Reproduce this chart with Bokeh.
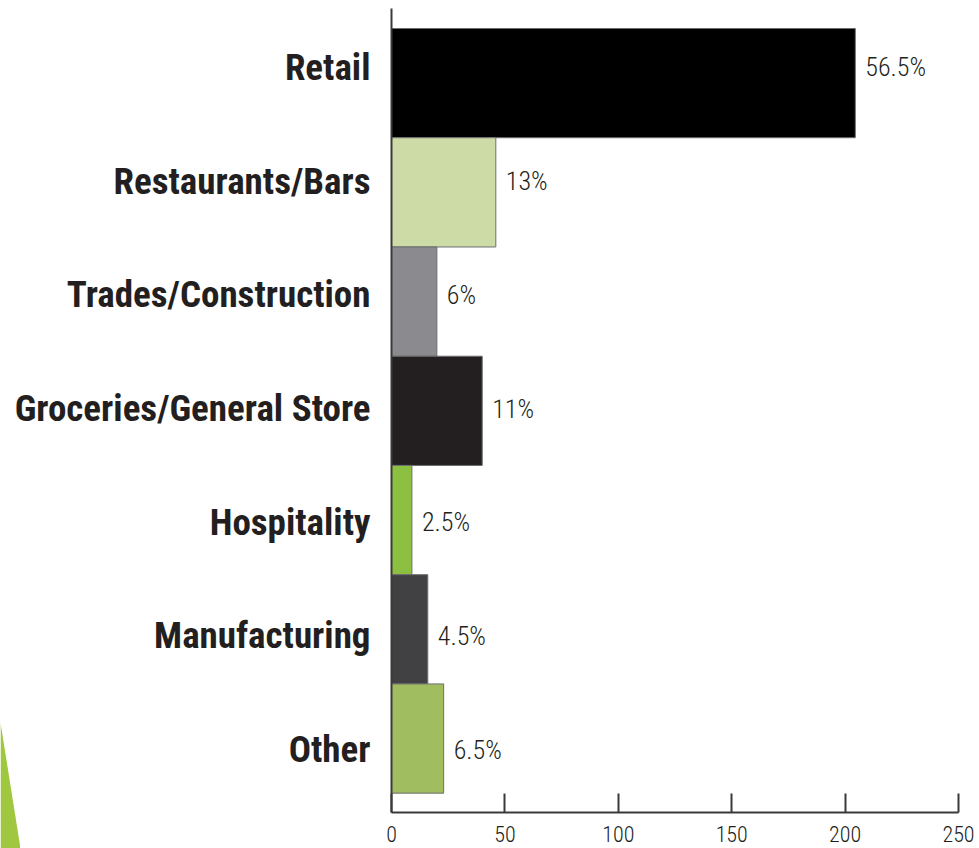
from bokeh.plotting import figure
from bokeh.models import Range1d, LinearAxis, FixedTicker, ColumnDataSource
from bokeh.core.properties import value
from bokeh.embed import file_html
from bokeh.resources import INLINE

# ---- data ----
categories = ["Retail", "Restaurants/Bars", "Trades/Construction",
              "Groceries/General Store", "Hospitality", "Manufacturing", "Other"]
counts = [204.5, 46, 20, 40, 9, 16, 23]
pct_labels = ["56.5%", "13%", "6%", "11%", "2.5%", "4.5%", "6.5%"]
bar_colors = ["#000000", "#cddba7", "#8b8a8f", "#231f20", "#8dc041", "#414042", "#a0bd5f"]
x_ticks = [0, 50, 100, 150, 200, 250]

# decorative slide wedge (lower-left corner), in its own small canvas
wedge_x = [0, 20, 0]
wedge_y = [126, 0, 0]

positions = list(range(len(categories) - 1, -1, -1))  # Retail on top

src = ColumnDataSource(dict(cat=categories, count=counts, pct=pct_labels,
                            color=bar_colors, pos=positions))

BOLD_FONT = "'Roboto Condensed', 'Noto Sans Condensed', 'DejaVu Sans Condensed', sans-serif"
LIGHT_FONT = "'Roboto Condensed Light', 'Roboto Condensed', 'Noto Sans Condensed', sans-serif"
TEXT_COLOR = "#231f20"
AXIS_COLOR = "#3a3a3a"

p = figure(width=979, height=848, output_backend="svg", toolbar_location=None,
           x_range=Range1d(0, 250), y_range=Range1d(-0.677, 6.683),
           x_axis_location=None, y_axis_location=None,
           min_border_left=391, min_border_right=21, min_border_top=8,
           min_border_bottom=36)
p.extra_y_ranges = {"labels": Range1d(-0.554, 6.519)}
p.outline_line_color = None
p.xgrid.visible = False
p.ygrid.visible = False
p.background_fill_color = "white"
p.border_fill_color = "white"

p.hbar(y="pos", left=0, right="count", height=1.0, fill_color="color",
       line_color="#6d6e71", line_width=1, source=src)

p.text(x="count", y="pos", text="pct", x_offset=10, text_baseline="middle",
       text_align="left", text_font=value(LIGHT_FONT), text_font_size="26px",
       text_color=TEXT_COLOR, y_range_name="labels", source=src)

# category axis
yaxis = LinearAxis(y_range_name="labels",
                   ticker=FixedTicker(ticks=positions),
                   major_label_overrides={pos: cat for pos, cat in zip(positions, categories)})
yaxis.major_tick_in = 0
yaxis.major_tick_out = 0
yaxis.minor_tick_line_color = None
yaxis.axis_line_color = AXIS_COLOR
yaxis.axis_line_width = 2
yaxis.major_label_standoff = 21
yaxis.major_label_text_font = BOLD_FONT
yaxis.major_label_text_font_style = "bold"
yaxis.major_label_text_font_size = "37px"
yaxis.major_label_text_color = TEXT_COLOR
p.add_layout(yaxis, "left")

# value axis
xaxis = LinearAxis(ticker=FixedTicker(ticks=x_ticks))
xaxis.major_tick_in = 19
xaxis.major_tick_out = 0
xaxis.minor_tick_line_color = None
xaxis.axis_line_color = AXIS_COLOR
xaxis.axis_line_width = 2
xaxis.major_tick_line_color = AXIS_COLOR
xaxis.major_tick_line_width = 2
xaxis.major_label_standoff = 13
xaxis.major_label_text_font = LIGHT_FONT
xaxis.major_label_text_font_size = "22px"
xaxis.major_label_text_color = TEXT_COLOR
p.add_layout(xaxis, "below")

# small overlay canvas for the green wedge
w = figure(width=20, height=126, output_backend="svg", toolbar_location=None,
           x_range=Range1d(0, 20), y_range=Range1d(0, 126),
           x_axis_location=None, y_axis_location=None, min_border=0,
           styles={"position": "absolute", "left": "0px", "top": "722px"})
w.outline_line_color = None
w.xgrid.visible = False
w.ygrid.visible = False
w.background_fill_alpha = 0
w.border_fill_alpha = 0
w.patch(x=wedge_x, y=wedge_y, fill_color="#9fc73f", line_color=None)

open("out.html", "w").write(file_html([p, w], INLINE))
